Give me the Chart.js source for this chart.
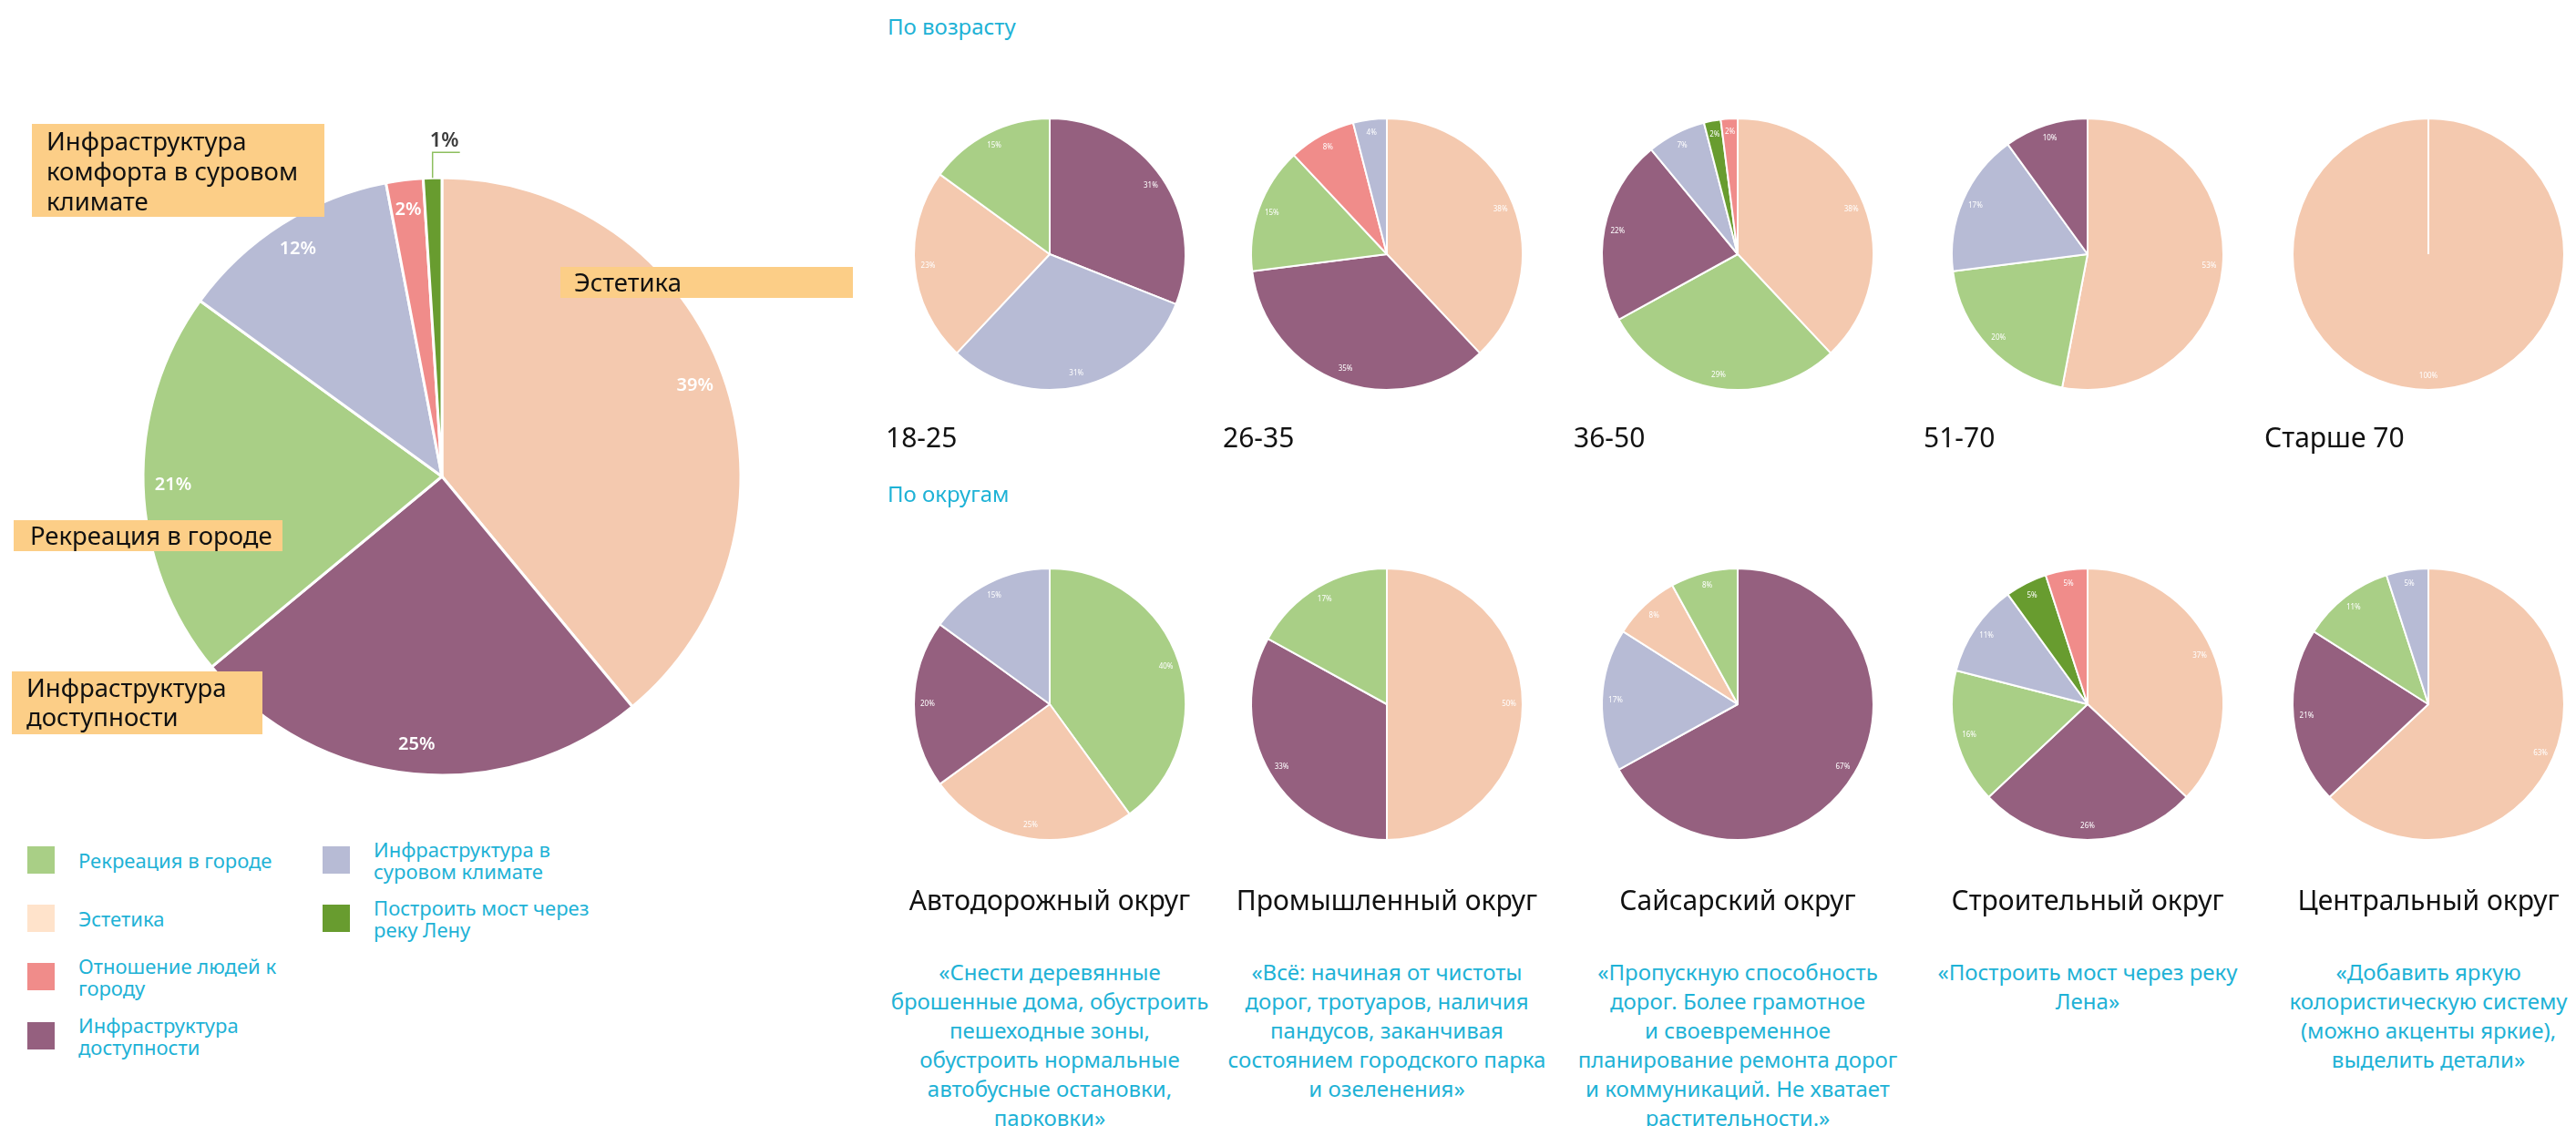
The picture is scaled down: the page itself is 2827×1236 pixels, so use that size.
<!DOCTYPE html>
<html lang="ru">
<head>
<meta charset="utf-8">
<title>Что нужно городу</title>
<script src="https://cdn.jsdelivr.net/npm/chart.js@4.4.1/dist/chart.umd.min.js"></script>
<style>
  html, body { margin: 0; padding: 0; background: #fff; }
  #page { position: relative; width: 2827px; height: 1236px; overflow: hidden;
          font-family: "Noto Sans", "Open Sans", sans-serif; }
  .pie { position: absolute; z-index: 1; }
  .txt { position: absolute; z-index: 3; white-space: pre-line; }
  .hdr { color: #1EB2D6; font-size: 24px; line-height: 30px; }
  .age { color: #111; font-size: 30px; line-height: 36px; }
  .dist { color: #111; font-size: 30px; line-height: 36px; width: 440px; text-align: center; }
  .quote { color: #1EB2D6; font-size: 24px; line-height: 32px; width: 440px; text-align: center; }
  .tag { position: absolute; z-index: 5; background: #FCCE87; color: #111;
         font-size: 27.5px; line-height: 33px; white-space: pre; box-sizing: border-box; }
  .leg { position: absolute; z-index: 3; display: flex; align-items: center; height: 30px; }
  .leg .sw { width: 30px; height: 30px; flex: none; }
  .leg .lt { margin-left: 26px; color: #1EB2D6; font-size: 22px; line-height: 24px; }
</style>
</head>
<body>
<div id="page">
  <div class="tag" style="left:35px; top:136px; width:321px; height:102px; padding:2px 0 0 16px;">Инфраструктура
комфорта в суровом
климате</div>
  <div class="tag" style="left:615px; top:293px; width:321px; height:34px; padding:0 0 0 15px;">Эстетика</div>
  <div class="tag" style="left:15px; top:571px; width:295px; height:34px; padding:0 0 0 18px;">Рекреация в городе</div>
  <div class="tag" style="left:13px; top:737px; width:275px; height:69px; padding:2px 0 0 16px; line-height:32px;">Инфраструктура
доступности</div>
</div>

<script>
// категории ответов
const REC = "Рекреация в городе";
const EST = "Эстетика";
const OTN = "Отношение людей к городу";
const DOS = "Инфраструктура доступности";
const KLI = "Инфраструктура в суровом климате";
const MOST = "Построить мост через реку Лену";

const categories = [REC, EST, OTN, DOS, KLI, MOST];
const sliceColors = ["#A9CF86", "#F4C9AF", "#F08C8A", "#95607F", "#B7BBD5", "#689C2F"];
const legendColors = ["#A9CF86", "#FFE3CB", "#F08C8A", "#95607F", "#B7BBD5", "#689C2F"];

// общий итог
const totalLabels = [EST, DOS, REC, KLI, OTN, MOST];
const totalValues = [39, 25, 21, 12, 2, 1];

// по возрасту
const ageGroups = ["18-25", "26-35", "36-50", "51-70", "Старше 70"];
const age1Labels = [DOS, KLI, EST, REC];
const age1Values = [31, 31, 23, 15];
const age2Labels = [EST, DOS, REC, OTN, KLI];
const age2Values = [38, 35, 15, 8, 4];
const age3Labels = [EST, REC, DOS, KLI, MOST, OTN];
const age3Values = [38, 29, 22, 7, 2, 2];
const age4Labels = [EST, REC, KLI, DOS];
const age4Values = [53, 20, 17, 10];
const age5Labels = [EST];
const age5Values = [100];

// по округам
const districts = ["Автодорожный округ", "Промышленный округ", "Сайсарский округ", "Строительный округ", "Центральный округ"];
const dist1Labels = [REC, EST, DOS, KLI];
const dist1Values = [40, 25, 20, 15];
const dist2Labels = [EST, DOS, REC];
const dist2Values = [50, 33, 17];
const dist3Labels = [DOS, KLI, EST, REC];
const dist3Values = [67, 17, 8, 8];
const dist4Labels = [EST, DOS, REC, KLI, MOST, OTN];
const dist4Values = [37, 26, 16, 11, 5, 5];
const dist5Labels = [EST, DOS, REC, KLI];
const dist5Values = [63, 21, 11, 5];

const quotes = [
  "«Снести деревянные\nброшенные дома, обустроить\nпешеходные зоны,\nобустроить нормальные\nавтобусные остановки,\nпарковки»",
  "«Всё: начиная от чистоты\nдорог, тротуаров, наличия\nпандусов, заканчивая\nсостоянием городского парка\nи озеленения»",
  "«Пропускную способность\nдорог. Более грамотное\nи своевременное\nпланирование ремонта дорог\nи коммуникаций. Не хватает\nрастительности.»",
  "«Построить мост через реку\nЛена»",
  "«Добавить яркую\nколористическую систему\n(можно акценты яркие),\nвыделить детали»"
];

// раскладка
const colX = [1152, 1522, 1907, 2291, 2665];
const ageY = 279, distY = 773, smallR = 149;
const mainX = 485, mainY = 523, mainR = 328;

const page = document.getElementById("page");

// подписи процентов на секторах
const pctLabels = {
  id: "pctLabels",
  afterDatasetsDraw(chart, args, opts) {
    const ctx = chart.ctx;
    const meta = chart.getDatasetMeta(0);
    const values = chart.data.datasets[0].data;
    ctx.save();
    ctx.textAlign = "center";
    ctx.textBaseline = "middle";
    meta.data.forEach(function (arc, i) {
      const v = values[i];
      const mid = (arc.startAngle + arc.endAngle) / 2;
      if (v < opts.outsideBelow) {
        const px = arc.x + Math.cos(mid) * arc.outerRadius;
        const py = arc.y + Math.sin(mid) * arc.outerRadius;
        ctx.strokeStyle = "#8DBF5E";
        ctx.lineWidth = 1.5;
        ctx.beginPath();
        ctx.moveTo(px, py);
        ctx.lineTo(px, py - 28);
        ctx.lineTo(px + 30, py - 28);
        ctx.stroke();
        ctx.fillStyle = "#3C3C3C";
        ctx.font = "600 22px 'Noto Sans'";
        ctx.textBaseline = "bottom";
        ctx.fillText(v + "%", px + 13, py - 29);
        ctx.textBaseline = "middle";
        return;
      }
      const r = arc.outerRadius * opts.pos;
      ctx.fillStyle = "#fff";
      ctx.font = opts.font;
      ctx.fillText(v + "%", arc.x + Math.cos(mid) * r, arc.y + Math.sin(mid) * r);
    });
    ctx.restore();
  }
};

function addPie(cx, cy, r, labels, values, border, labelOpts) {
  const size = Math.round(r * 2 + 120);
  const canvas = document.createElement("canvas");
  canvas.width = size;
  canvas.height = size;
  canvas.className = "pie";
  canvas.style.left = (cx - size / 2) + "px";
  canvas.style.top = (cy - size / 2) + "px";
  page.appendChild(canvas);
  new Chart(canvas, {
    type: "pie",
    data: {
      labels: labels,
      datasets: [{
        data: values,
        backgroundColor: labels.map(l => sliceColors[categories.indexOf(l)]),
        borderColor: "#fff",
        borderWidth: border
      }]
    },
    options: {
      responsive: false,
      animation: false,
      radius: r,
      layout: { padding: 0 },
      events: [],
      plugins: {
        legend: { display: false },
        tooltip: { enabled: false },
        pctLabels: labelOpts
      }
    },
    plugins: [pctLabels]
  });
}

function addText(cls, text, left, top) {
  const d = document.createElement("div");
  d.className = "txt " + cls;
  d.textContent = text;
  d.style.left = left + "px";
  d.style.top = top + "px";
  page.appendChild(d);
  return d;
}

// главный круг
addPie(mainX, mainY, mainR, totalLabels, totalValues, 3,
  { pos: 0.9, font: "600 20px 'Noto Sans'", outsideBelow: 2 });

// по возрасту
const ageLabelSets = [age1Labels, age2Labels, age3Labels, age4Labels, age5Labels];
const ageValueSets = [age1Values, age2Values, age3Values, age4Values, age5Values];
const smallOpts = { pos: 0.9, font: "8px 'Noto Sans'", outsideBelow: 0 };

addText("hdr", "По возрасту", 974, 14);
ageGroups.forEach(function (g, i) {
  addPie(colX[i], ageY, smallR, ageLabelSets[i], ageValueSets[i], 2, smallOpts);
  addText("age", g, colX[i] - 180, 462);
});

// по округам
const distLabelSets = [dist1Labels, dist2Labels, dist3Labels, dist4Labels, dist5Labels];
const distValueSets = [dist1Values, dist2Values, dist3Values, dist4Values, dist5Values];

addText("hdr", "По округам", 974, 527);
districts.forEach(function (d, i) {
  addPie(colX[i], distY, smallR, distLabelSets[i], distValueSets[i], 2, smallOpts);
  addText("dist", d, colX[i] - 220, 970);
  addText("quote", quotes[i], colX[i] - 220, 1051);
});

// легенда
const legRowTop = [929, 993, 1057, 1122];
categories.forEach(function (c, i) {
  const col = i < 4 ? 0 : 1;
  const row = i < 4 ? i : i - 4;
  const item = document.createElement("div");
  item.className = "leg";
  item.style.left = (col === 0 ? 30 : 354) + "px";
  item.style.top = legRowTop[row] + "px";
  const sw = document.createElement("div");
  sw.className = "sw";
  sw.style.background = legendColors[i];
  const lt = document.createElement("div");
  lt.className = "lt";
  lt.style.width = (col === 0 ? 225 : 240) + "px";
  lt.textContent = c;
  item.appendChild(sw);
  item.appendChild(lt);
  page.appendChild(item);
});
</script>
</body>
</html>
